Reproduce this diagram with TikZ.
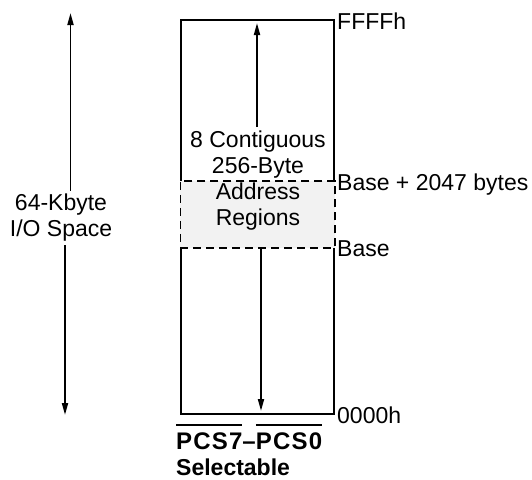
\documentclass[tikz,border=0pt]{standalone}
\usepackage{fontspec}
\setmainfont{Liberation Sans}
\usetikzlibrary{arrows.meta, positioning}
\newcommand{\olbar}[1]{\vbox{\hrule height 1.8pt\kern 6pt\hbox{#1}}}

\begin{document}
\begin{tikzpicture}[
    x=1pt, y=-1pt,
    font=\fontsize{23}{26}\selectfont,
    arr/.style={draw, line width=1.8pt, -{Triangle[length=12pt,width=6pt]}},
    space/.style={draw, line width=2pt, rectangle, inner sep=0pt, anchor=north west},
    region/.style={draw, line width=1.8pt, dash pattern=on 8pt off 5pt, fill=black!5, rectangle, inner sep=0pt, anchor=north west},
    lbl/.style={anchor=base west, inner sep=0pt},
    sel/.style={anchor=base west, inner sep=0pt, font=\fontsize{23}{26}\selectfont\bfseries}
]
    \useasboundingbox (0,0) rectangle (532,479);

    % memory space and the chip-select window
    \node[space, minimum width=153pt, minimum height=394pt] (mem) at (180,19) {};
    \node[region, minimum width=154.5pt, minimum height=67pt] (window) at (179.5,180) {};

    \node[align=center, inner sep=0pt] (regtxt) at (258,181) {8 Contiguous\\256-Byte\\Address\\Regions};
    \coordinate (memhi) at (257,23);
    \coordinate (memlo) at (261,411);
    \draw[arr] ([xshift=-1pt, yshift=4pt]regtxt.north) -- (memhi);
    \draw[arr] ([xshift=3pt, yshift=-17pt]regtxt.south) -- (memlo);

    % address labels
    \node[lbl] (ffff) at (337,29) {FFFFh};
    \node[lbl] (basetop) at (337,190) {Base + 2047 bytes};
    \node[lbl] (base) at (337,256) {Base};
    \node[lbl] (zero) at (337,423) {0000h};

    % total I/O space
    \node[align=center] (iospace) at (61,218) {64-Kbyte\\I/O Space};
    \coordinate (iotop) at (70.5,13);
    \coordinate (iobot) at (65,415);
    \draw[arr] ([xshift=9.5pt]iospace.north) -- (iotop);
    \draw[arr] ([xshift=4pt]iospace.south) -- (iobot);

    % chip selects
    \node[sel, font=\fontsize{24}{26}\selectfont\bfseries\addfontfeatures{LetterSpace=5}] (pcs) at (176,449) {\olbar{PCS7}–\olbar{PCS0}};
    \node[sel] (selbl) at ([yshift=-26pt]pcs.base west) {Selectable};
\end{tikzpicture}
\end{document}
